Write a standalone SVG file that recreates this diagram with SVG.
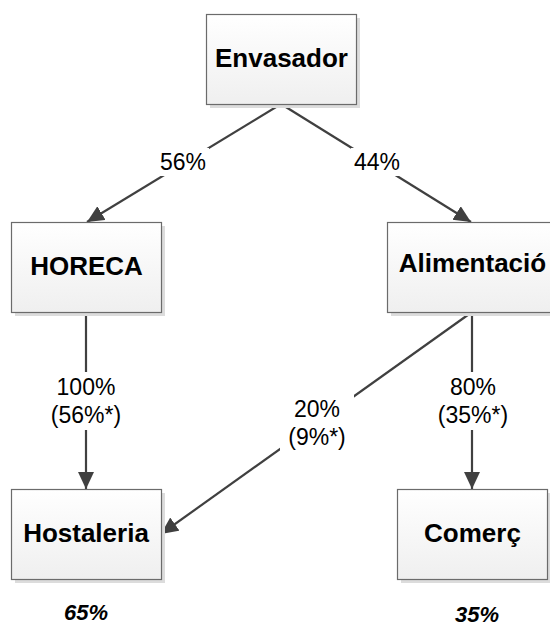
<svg xmlns="http://www.w3.org/2000/svg" width="550" height="628" viewBox="0 0 550 628">
<style>
.box{fill:url(#g);stroke:#6b6b6b;stroke-width:1.2}
.sh{fill:#dcdcdc}
.nt{font-family:"Liberation Sans",Arial,sans-serif;font-weight:bold;font-size:26px;fill:#000;text-anchor:middle}
.lt{font-family:"Liberation Sans",Arial,sans-serif;font-size:23px;fill:#000;text-anchor:middle}
.pt{font-family:"Liberation Sans",Arial,sans-serif;font-size:22px;font-weight:bold;font-style:italic;fill:#000;text-anchor:middle}
.ln{stroke:#404040;stroke-width:2.2;fill:none}
.bg{fill:#fff}
</style>
<defs>
<linearGradient id="g" x1="0" y1="0" x2="0" y2="1">
<stop offset="0" stop-color="#ffffff"/>
<stop offset="1" stop-color="#efefef"/>
</linearGradient>
<marker id="ah" markerUnits="userSpaceOnUse" markerWidth="18" markerHeight="18" refX="17" refY="8" orient="auto">
<path d="M0,0 L17,8 L0,16 z" fill="#404040"/>
</marker>
</defs>
<rect width="550" height="628" fill="#fff"/>
<g id="connectors">
<line class="ln" x1="281" y1="104" x2="87" y2="222" marker-end="url(#ah)"/>
<line class="ln" x1="281" y1="104" x2="471" y2="222" marker-end="url(#ah)"/>
<line class="ln" x1="86" y1="312" x2="86" y2="489" marker-end="url(#ah)"/>
<line class="ln" x1="472" y1="312" x2="161" y2="534" marker-end="url(#ah)"/>
<line class="ln" x1="472" y1="312" x2="472" y2="489" marker-end="url(#ah)"/>
<rect class="bg" x="157" y="148" width="52" height="28"/>
<rect class="bg" x="351" y="148" width="52" height="28"/>
<rect class="bg" x="48" y="372" width="76" height="58"/>
<rect class="bg" x="280" y="394" width="74" height="57"/>
<rect class="bg" x="434" y="372" width="77" height="58"/>
<text class="lt" x="183" y="170">56%</text>
<text class="lt" x="377" y="170">44%</text>
<text class="lt" x="86" y="395">100%</text>
<text class="lt" x="86" y="423">(56%*)</text>
<text class="lt" x="317" y="417">20%</text>
<text class="lt" x="317" y="445">(9%*)</text>
<text class="lt" x="473" y="395">80%</text>
<text class="lt" x="473" y="423">(35%*)</text>
</g>
<g id="envasador">
<rect class="sh" x="210" y="18" width="150" height="90"/>
<rect class="box" x="206.5" y="14.5" width="150" height="90"/>
<text class="nt" x="281.5" y="67">Envasador</text>
</g>
<g id="horeca">
<rect class="sh" x="15" y="226" width="150" height="90"/>
<rect class="box" x="11.5" y="222.5" width="150" height="90"/>
<text class="nt" x="86.5" y="275">HORECA</text>
</g>
<g id="alimentacio">
<rect class="sh" x="391" y="226" width="170" height="90"/>
<rect class="box" x="387.5" y="222.5" width="170" height="90"/>
<text class="nt" x="472.5" y="272">Alimentació</text>
</g>
<g id="hostaleria">
<rect class="sh" x="15" y="493" width="150" height="90"/>
<rect class="box" x="11.5" y="489.5" width="150" height="90"/>
<text class="nt" x="86" y="542">Hostaleria</text>
</g>
<g id="comerc">
<rect class="sh" x="401" y="493" width="150" height="90"/>
<rect class="box" x="397.5" y="489.5" width="150" height="90"/>
<text class="nt" x="472.5" y="542">Comerç</text>
</g>
<g id="percentages">
<text class="pt" x="86" y="620">65%</text>
<text class="pt" x="477" y="622">35%</text>
</g>
</svg>
